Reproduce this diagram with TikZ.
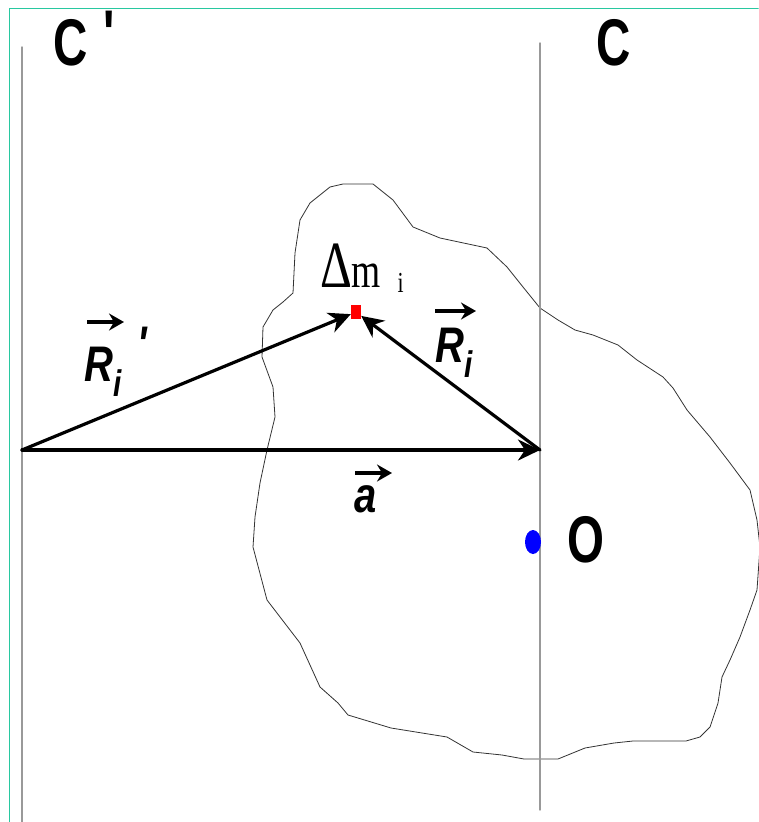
\documentclass[tikz,border=0pt]{standalone}
\usepackage{fontspec}
\setmainfont{Liberation Sans}
\newfontfamily\timesfont{Liberation Serif}
\usetikzlibrary{arrows.meta}
\definecolor{frameteal}{RGB}{40,200,160}
\newcommand{\lowidx}[1]{\raisebox{-15pt}{\fontsize{37}{37}\selectfont #1}}

\begin{document}
\begin{tikzpicture}[x=1pt, y=-1pt, line join=round, line cap=round,
    axis/.style={black!40, line width=1.4pt},
    body/.style={black!80, line width=0.8pt},
    vecline/.style={line width=3.2pt, -{Stealth[length=22pt,width=21pt,inset=7pt]}},
    vecbar/.style={line width=3.6pt, line cap=butt, -{Stealth[length=15pt,width=17pt,inset=5pt]}},
    biglbl/.style={font=\fontsize{66}{72}\selectfont\bfseries, xscale=0.72, inner sep=0pt, anchor=base west},
    veclbl/.style={font=\fontsize{50}{56}\selectfont\bfseries\itshape, xscale=0.8, inner sep=0pt, anchor=base west}]
    \useasboundingbox (0,0) rectangle (758,822);

    % frame
    \draw[frameteal, line width=1.5pt] (9.5,822) -- (9.5,8.5) -- (758,8.5);

    % outline of the body
    \draw[body] (343,184) -- (373,184) -- (393,200) -- (413,227) -- (440,238) -- (487,248)
        -- (507,267) -- (523,287) -- (540,308) -- (558,320) -- (575,330) -- (593,335)
        -- (618,345) -- (637,360) -- (663,377) -- (673,388) -- (687,410) -- (710,437)
        -- (730,463) -- (750,490) -- (757,520) -- (760,547) -- (757,590) -- (750,610)
        -- (740,637) -- (730,660) -- (722,677) -- (718,703) -- (710,727) -- (700,737)
        -- (686,741) -- (633,741) -- (614,743) -- (585,748) -- (558,759) -- (524,759)
        -- (502,755) -- (473,752) -- (447,737) -- (391,728) -- (348,715) -- (338,703)
        -- (320,687) -- (300,643) -- (267,600) -- (253,547) -- (255,517) -- (260,483)
        -- (267,450) -- (275,417) -- (273,387) -- (262,357) -- (263,327) -- (273,310)
        -- (283,302) -- (293,293) -- (295,253) -- (300,220) -- (310,203) -- (330,187) -- cycle;

    % axes C' and C
    \draw[axis] (22,47) -- (22,822);
    \draw[axis] (540,43) -- (540,810);
    \coordinate (cp) at (22,450);
    \coordinate (cc) at (540,450);

    % mass element and centre of mass
    \node[fill=red, inner sep=0pt, minimum width=10pt, minimum height=14pt] (dm) at (356,312) {};
    \fill[blue] (533,542) ellipse [x radius=8, y radius=12];

    \draw[vecline] (cp) -- (dm);
    \draw[vecline] (cc) -- (dm);
    \draw[vecline] (cp) -- (cc);

    % labels
    \node[biglbl] (lcp) at (53,65) {C\hspace{22pt}\raisebox{9pt}{\textquotesingle}};
    \node[biglbl] (lc) at (596,65) {C};
    \node[biglbl] (lo) at (567,562) {O};
    \node[inner sep=0pt, anchor=base west, xscale=0.75] (ldm) at (320,287)
        {\timesfont\fontsize{66}{70}\selectfont Δ\fontsize{50}{60}\selectfont m\hspace{22pt}\raisebox{-5pt}{\fontsize{29}{30}\selectfont i}};
    \node[veclbl] (lrp) at (84,381) {R\lowidx{i}\hspace{20pt}\raisebox{20pt}{\textquotesingle}};
    \node[veclbl] (lr) at (435,362) {R\lowidx{i}};
    \node[veclbl] (la) at (354,512) {a};
    \draw[vecbar] ([shift={(3pt,59pt)}]lrp.base west) -- ([shift={(40pt,59pt)}]lrp.base west);
    \draw[vecbar] ([shift={(0pt,51pt)}]lr.base west) -- ([shift={(41pt,51pt)}]lr.base west);
    \draw[vecbar] ([shift={(1pt,39pt)}]la.base west) -- ([shift={(38pt,39pt)}]la.base west);
\end{tikzpicture}
\end{document}
